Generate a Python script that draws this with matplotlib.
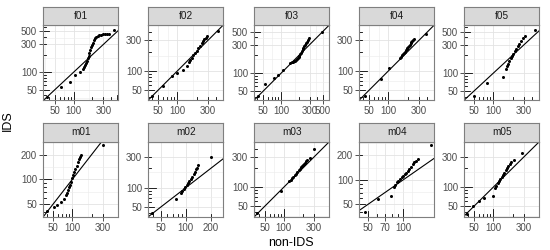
import numpy as np
import matplotlib
matplotlib.use("Agg")
import matplotlib.pyplot as plt
from matplotlib.transforms import blended_transform_factory

plt.rcParams['font.family'] = ['Liberation Sans', 'DejaVu Sans']

# quantiles (non-IDS on x, IDS on y)
f01_x = [37, 62, 86, 105, 128, 140, 147, 153, 160, 165, 170, 174, 178, 183, 189, 196, 203, 211, 221, 232, 243, 257, 273, 292, 314, 340, 375, 448]
f01_y = [38, 55, 69, 88, 100, 112, 122, 131, 142, 156, 172, 192, 213, 240, 267, 295, 322, 352, 379, 398, 414, 430, 441, 448, 453, 456, 458, 533]

f02_x = [40, 59, 84, 100, 122, 142, 150, 159, 168, 178, 189, 200, 212, 225, 238, 249, 261, 275, 290, 425]
f02_y = [41, 58, 83, 93, 102, 119, 136, 148, 161, 176, 191, 208, 226, 246, 268, 290, 311, 330, 345, 423]

f03_x = [40.6, 53, 75, 88.6, 108, 141, 150, 158, 165, 172, 178, 184, 190, 196, 203, 210, 216, 223, 230, 237, 245, 252, 262, 272, 282, 292, 487]
f03_y = [41.7, 65, 83.5, 94, 111, 150, 152, 155, 158, 163, 168, 173, 180, 188, 198, 210, 222, 237, 252, 268, 285, 301, 320, 340, 362, 383, 487]

f04_x = [43.6, 77, 103, 151, 157, 163, 168, 174, 180, 186, 192, 198, 204, 210, 216, 222, 229, 237, 246, 252, 385]
f04_y = [40.9, 74, 110, 161, 168, 176, 185, 193, 201, 210, 219, 229, 238, 248, 258, 268, 278, 289, 300, 315, 371]

f05_x = [49.4, 80.8, 141, 156, 165, 170, 178, 186, 194, 204, 215, 227, 240, 255, 272, 292, 313, 445]
f05_y = [40.6, 67, 86, 118, 132, 142, 161, 177, 194, 213, 234, 258, 283, 311, 341, 385, 427, 528]

m01_x = [40.5, 51, 57.7, 65.5, 73.5, 81, 84, 87, 90, 93.5, 97, 100, 104, 108, 112, 117, 121, 125, 130, 135, 297]
m01_y = [41.5, 46, 49.5, 52.7, 57.7, 64, 69, 75, 80, 86, 94, 103, 113, 123, 135, 147, 161, 175, 188, 200, 261]

m02_x = [39.7, 77, 87.7, 91, 94.8, 98, 102, 106, 110, 114, 119, 124, 129, 133, 136, 140, 200]
m02_y = [40.3, 66.4, 82.6, 89, 95.3, 102, 110, 118, 127, 136, 147, 161, 177, 192, 205, 225, 300]

m03_x = [38, 89, 122, 128, 134, 141, 148, 156, 164, 172, 180, 188, 195, 202, 209, 216, 224, 231, 255, 301]
m03_y = [38.5, 86.7, 124, 131, 139, 147, 155, 164, 173, 183, 193, 204, 216, 225, 233, 242, 255, 268, 290, 394]

m04_x = [46.9, 61.5, 79.3, 84.3, 86, 88.1, 91, 94, 97, 100, 103, 106, 110, 113, 117, 121, 125, 129, 133, 173]
m04_y = [40.1, 58.4, 63.4, 81.8, 87, 93.8, 98, 103, 108, 113, 118, 123, 129, 135, 145, 155, 164, 173, 183, 268]

m05_x = [39.5, 47.8, 60.5, 71.1, 100, 107, 112, 117.5, 123, 129, 135, 142, 149, 156, 164, 172, 180, 189, 213, 284]
m05_y = [38.2, 51.2, 59.8, 66.5, 73.8, 98, 106, 114.5, 124, 134, 145, 157, 170, 183, 199, 215, 230, 246, 265, 344]

names = ['f01', 'f02', 'f03', 'f04', 'f05', 'm01', 'm02', 'm03', 'm04', 'm05']
xs = [f01_x, f02_x, f03_x, f04_x, f05_x, m01_x, m02_x, m03_x, m04_x, m05_x]
ys = [f01_y, f02_y, f03_y, f04_y, f05_y, m01_y, m02_y, m03_y, m04_y, m05_y]
xbreaks = [[50, 100, 300], [50, 100, 300], [50, 100, 300, 500], [50, 100, 300], [50, 100, 300],
           [50, 100, 300], [50, 100, 200], [50, 100, 300], [50, 70, 100], [50, 100, 300]]
ybreaks = [[50, 100, 300, 500], [50, 100, 300], [50, 100, 300, 500], [50, 100, 300], [50, 100, 300, 500],
           [50, 100, 200], [50, 100, 300], [50, 100, 300], [50, 100, 200], [50, 100, 300]]

W, H = 550, 250
lefts = [43.3, 148.3, 254.3, 359.3, 464.3]
tops = [25, 141.7]
pw = ph = 75
strip_h = 18.5
border = '#7f7f7f'


def minor_of(br):
    lb = np.log10(br)
    mids = (lb[:-1] + lb[1:]) / 2
    ext = [lb[0] - (lb[1] - lb[0]) / 2, lb[-1] + (lb[-1] - lb[-2]) / 2]
    return 10 ** np.concatenate([mids, ext])


def loglim(v):
    lo, hi = np.log10(min(v)), np.log10(max(v))
    pad = 0.05 * (hi - lo)
    return 10 ** (lo - pad), 10 ** (hi + pad)


def logticks(ax, xlim, ylim):
    trx = blended_transform_factory(ax.transData, ax.transAxes)
    try_ = blended_transform_factory(ax.transAxes, ax.transData)
    for d in [10, 100, 1000]:
        for k in range(1, 10):
            v = k * d
            L = (8.0 if k == 1 else (5.3 if k == 5 else 2.7)) / pw
            if xlim[0] <= v <= xlim[1]:
                ax.plot([v, v], [0, L], transform=trx, color='black', lw=0.6, zorder=4, clip_on=False)
            if ylim[0] <= v <= ylim[1]:
                ax.plot([0, L], [v, v], transform=try_, color='black', lw=0.6, zorder=4, clip_on=False)


fig = plt.figure(figsize=(W / 100, H / 100), dpi=100)

for i in range(10):
    r, c = divmod(i, 5)
    x0, y0 = lefts[c], tops[r]
    ax = fig.add_axes([x0 / W, 1 - (y0 + ph) / H, pw / W, ph / H])
    ax.set_xscale('log')
    ax.set_yscale('log')
    xl, yl = loglim(xs[i]), loglim(ys[i])
    ax.set_xlim(xl)
    ax.set_ylim(yl)
    ax.set_xticks(xbreaks[i])
    ax.set_xticklabels([str(b) for b in xbreaks[i]])
    ax.set_yticks(ybreaks[i])
    ax.set_yticklabels([str(b) for b in ybreaks[i]])
    ax.set_xticks(minor_of(xbreaks[i]), minor=True)
    ax.set_yticks(minor_of(ybreaks[i]), minor=True)
    ax.tick_params(which='minor', length=0, labelleft=False, labelbottom=False)
    ax.tick_params(which='major', length=3, width=0.6, color='#333333', labelsize=7,
                   labelcolor='#4d4d4d', pad=1.5)
    ax.grid(True, which='major', color='#e3e3e3', lw=0.6, zorder=0)
    ax.grid(True, which='minor', color='#ececec', lw=0.45, zorder=0)
    ax.set_axisbelow(True)
    for s in ax.spines.values():
        s.set_color(border)
        s.set_linewidth(0.8)
        s.set_zorder(5)

    ax.axline((1, 1), (1000, 1000), color='black', lw=0.8, zorder=3)
    ax.plot(xs[i], ys[i], 'o', color='black', ms=2.2, mew=0, zorder=3)
    logticks(ax, xl, yl)

    sax = fig.add_axes([x0 / W, 1 - y0 / H, pw / W, strip_h / H])
    sax.set_facecolor('#d9d9d9')
    sax.set_xticks([])
    sax.set_yticks([])
    for s in sax.spines.values():
        s.set_color(border)
        s.set_linewidth(0.8)
    sax.text(0.5, 0.5, names[i], ha='center', va='center', fontsize=7.2, color='#1a1a1a',
             transform=sax.transAxes)

fig.text(8 / W, 1 - 121 / H, 'IDS', rotation=90, ha='center', va='center', fontsize=9)
fig.text(291 / W, 1 - 243 / H, 'non-IDS', ha='center', va='center', fontsize=9)

fig.savefig('out.png', dpi=100)
